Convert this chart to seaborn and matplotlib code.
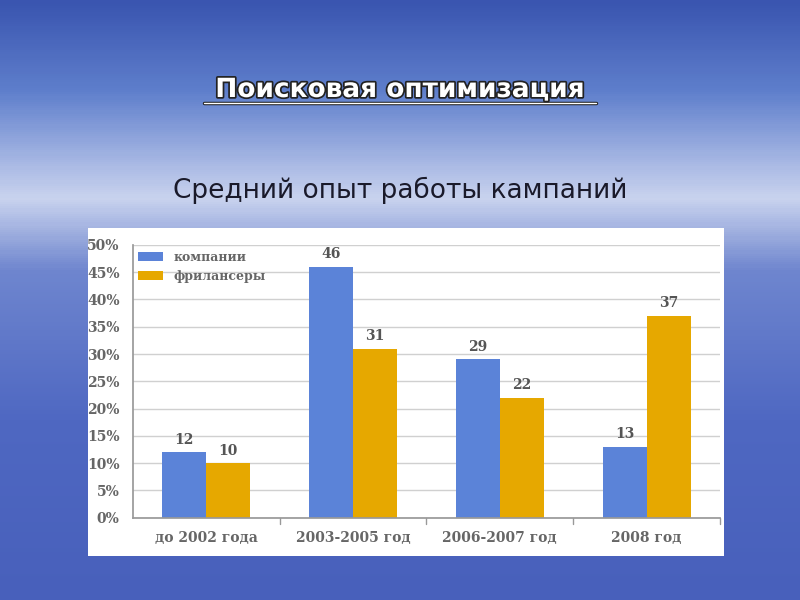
import numpy as np
import pandas as pd
import matplotlib
matplotlib.use("Agg")
import matplotlib.pyplot as plt
import seaborn as sns
from matplotlib.colors import LinearSegmentedColormap
import matplotlib.patheffects as pe

categories = ["до 2002 года", "2003-2005 год", "2006-2007 год", "2008 год"]
companies = [12, 46, 29, 13]
freelancers = [10, 31, 22, 37]
series_names = ["компании", "фрилансеры"]
yticks = [0, 5, 10, 15, 20, 25, 30, 35, 40, 45, 50]

df = pd.DataFrame({
    "cat": categories * 2,
    "val": companies + freelancers,
    "series": [series_names[0]] * 4 + [series_names[1]] * 4,
})

sns.set_theme(style="white")
plt.rcParams['font.family'] = ['DejaVu Sans']

fig = plt.figure(figsize=(8, 6), dpi=100)
bg = fig.add_axes([0, 0, 1, 1])
cmap = LinearSegmentedColormap.from_list("sky", [
    (0.0, "#3a55b0"), (0.15, "#5f7fcc"), (0.28, "#aebde6"), (0.33, "#c9d3ee"),
    (0.45, "#6f86cf"), (0.7, "#4f68c2"), (1.0, "#4860bb")])
grad = np.linspace(0, 1, 300).reshape(-1, 1)
bg.imshow(grad, aspect="auto", cmap=cmap, extent=[0, 1, 0, 1], origin="upper")
bg.set_axis_off()

fig.text(0.5, 0.85, "Поисковая оптимизация", ha="center", va="center",
         fontsize=19, fontweight="bold", color="white",
         path_effects=[pe.withStroke(linewidth=2.5, foreground="#222222")])
fig.add_artist(plt.Line2D([0.255, 0.745], [0.828, 0.828], color="#222222", lw=2.5))
fig.add_artist(plt.Line2D([0.255, 0.745], [0.828, 0.828], color="white", lw=1))
fig.text(0.5, 0.682, "Средний опыт работы кампаний", ha="center", va="center",
         fontsize=19, color="#1a1a2a")

panel = fig.add_axes([0.11, 0.073, 0.795, 0.547])
panel.set_facecolor("white")
panel.set_xticks([]); panel.set_yticks([])
for s in panel.spines.values():
    s.set_visible(False)

ax = fig.add_axes([0.166, 0.137, 0.734, 0.455])
sns.barplot(data=df, x="cat", y="val", hue="series", ax=ax,
            palette=["#5b83d8", "#e6a800"], width=0.6, saturation=1, legend=True,
            edgecolor="none", linewidth=0)
ax.set_ylim(0, 50)
ax.set_yticks(yticks)
ax.set_yticklabels([f"{v}%" for v in yticks], fontsize=10, fontweight="bold",
                   color="#666666", family="serif")
ax.set_xticklabels(categories, fontsize=10, fontweight="bold", color="#666666", family="serif")
ax.set_xlabel(""); ax.set_ylabel("")
ax.grid(axis="y", color="#d0d0d0", lw=1)
ax.set_axisbelow(True)
ax.set_xlim(-0.5, 3.5)
for s in ["top", "right"]:
    ax.spines[s].set_visible(False)
ax.spines["left"].set_color("#999999")
ax.spines["bottom"].set_color("#999999")
for xv in [0.5, 1.5, 2.5, 3.5]:
    ax.plot([xv, xv], [0, -1.2], color="#999999", lw=1, clip_on=False)
for c in ax.containers:
    ax.bar_label(c, labels=[str(int(v)) for v in c.datavalues], padding=4,
                 fontsize=10, fontweight="bold", color="#555555", family="serif")
leg = ax.legend(loc="upper left", frameon=False, bbox_to_anchor=(-0.01, 1.02),
                prop={"family": "serif", "weight": "bold", "size": 9})
for t in leg.get_texts():
    t.set_color("#666666")

fig.savefig("out.png", dpi=100)
